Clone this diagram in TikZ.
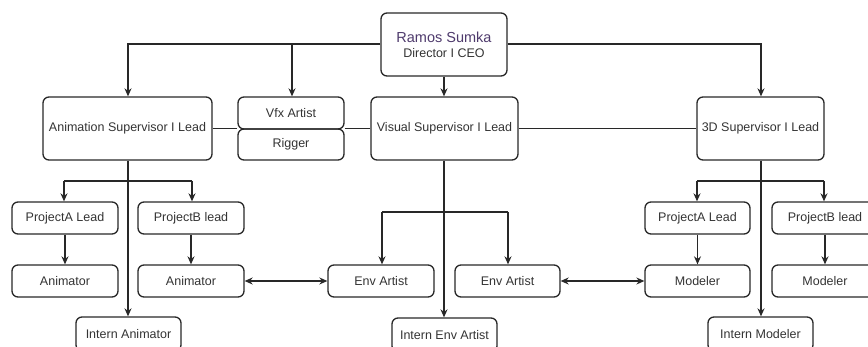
\documentclass[tikz,border=0pt]{standalone}
\usepackage{fontspec}
\setmainfont{Liberation Sans}
\usetikzlibrary{arrows.meta}
\definecolor{txt}{RGB}{51,51,51}
\definecolor{edge}{RGB}{40,40,40}
\definecolor{ceoname}{RGB}{78,58,108}
\begin{document}
\begin{tikzpicture}[x=1pt,y=-1pt,
  box/.style={draw=edge,line width=1.3pt,rounded corners=6pt,inner sep=0pt,
    text=txt,font=\fontsize{12.5}{14}\selectfont,anchor=center},
  sbox/.style={box,minimum width=106pt,minimum height=32pt},
  bigbox/.style={box,minimum height=63pt},
  conn/.style={draw=edge,line width=1.2pt},
  arr/.style={conn,-{Stealth[length=8pt,width=7pt]}},
  darr/.style={conn,{Stealth[length=8pt,width=7pt]}-{Stealth[length=8pt,width=7pt]}}]
\useasboundingbox (0,0) rectangle (868,347);
\clip (0,0) rectangle (868,347);
% top level
\node[bigbox,minimum width=126pt,align=center] (ceo) at (444,44.5)
  {{\fontsize{14.5}{18}\selectfont\color{ceoname}Ramos Sumka}\\[1pt]Director I CEO};
\node[bigbox,minimum width=169pt] (anim) at (127.5,128.5) {Animation Supervisor I Lead};
\node[box,minimum width=106pt,minimum height=32pt] (vfx) at (291,113) {Vfx Artist};
\node[box,minimum width=106pt,minimum height=31pt] (rig) at (291,144.5) {Rigger};
\node[bigbox,minimum width=147pt] (vis) at (444.5,128.5) {Visual Supervisor I Lead};
\node[bigbox,minimum width=127pt] (tdsup) at (760.5,128.5) {3D Supervisor I Lead};
% animation branch
\node[sbox] (pa1) at (65,218) {ProjectA Lead};
\node[sbox] (pb1) at (191,218) {ProjectB lead};
\node[sbox] (an1) at (65,281) {Animator};
\node[sbox] (an2) at (191,281) {Animator};
\node[sbox,minimum width=105pt,minimum height=34pt] (ian) at (128.5,334) {Intern Animator};
% visual branch
\node[sbox] (env1) at (381,281) {Env Artist};
\node[sbox,minimum width=105pt] (env2) at (507.5,281) {Env Artist};
\node[sbox,minimum width=105pt,minimum height=34pt] (ienv) at (444.5,335) {Intern Env Artist};
% 3D branch
\node[sbox,minimum width=105pt] (pa3) at (697.5,218) {ProjectA Lead};
\node[sbox] (pb3) at (825,218) {ProjectB lead};
\node[sbox,minimum width=105pt] (mo1) at (697.5,281) {Modeler};
\node[sbox] (mo2) at (825,281) {Modeler};
\node[sbox,minimum width=105pt,minimum height=34pt] (imo) at (760.5,334) {Intern Modeler};
% coordinates
\coordinate (lft) at (128,44);
\coordinate (vfxtop) at (292,44);
\coordinate (rgt) at (761,44);
\coordinate (ab) at (128,181);
\coordinate (abl) at (64,181);
\coordinate (abr) at (192,181);
\coordinate (vb) at (444,212);
\coordinate (vbl) at (382,212);
\coordinate (vbr) at (508,212);
\coordinate (tb) at (761,181);
\coordinate (tbl) at (697,181);
\coordinate (tbr) at (824,181);
\coordinate (mid) at (0,128.5);
% top connectors
\draw[arr] (ceo.west |- lft) -- (lft) -- (anim.north -| lft);
\draw[arr] (vfxtop) -- (vfx.north -| vfxtop);
\draw[arr] (ceo.east |- rgt) -- (rgt) -- (tdsup.north -| rgt);
\draw[arr] (ceo.south) -- (vis.north -| ceo.south);
% side links
\draw[conn] (anim.east) -- (vfx.west |- mid);
\draw[conn] (vfx.east |- mid) -- (vis.west);
\draw[conn] (vis.east) -- (tdsup.west);
% animation
\draw[arr] (anim.south -| ab) -- (ian.north -| ab);
\draw[conn] (abl) -- (abr);
\draw[arr] (abl) -- (pa1.north -| abl);
\draw[arr] (abr) -- (pb1.north -| abr);
\draw[arr] (pa1) -- (an1);
\draw[arr] (pb1) -- (an2);
% visual
\draw[arr] (vis.south -| vb) -- (ienv.north -| vb);
\draw[conn] (vbl) -- (vbr);
\draw[arr] (vbl) -- (env1.north -| vbl);
\draw[arr] (vbr) -- (env2.north -| vbr);
% 3D
\draw[arr] (tdsup.south -| tb) -- (imo.north -| tb);
\draw[conn] (tbl) -- (tbr);
\draw[arr] (tbl) -- (pa3.north -| tbl);
\draw[arr] (tbr) -- (pb3.north -| tbr);
\draw[arr] (pa3) -- (mo1);
\draw[arr] (pb3) -- (mo2);
% bidirectional
\draw[darr] (an2) -- (env1);
\draw[darr] (env2) -- (mo1);
\end{tikzpicture}
\end{document}
